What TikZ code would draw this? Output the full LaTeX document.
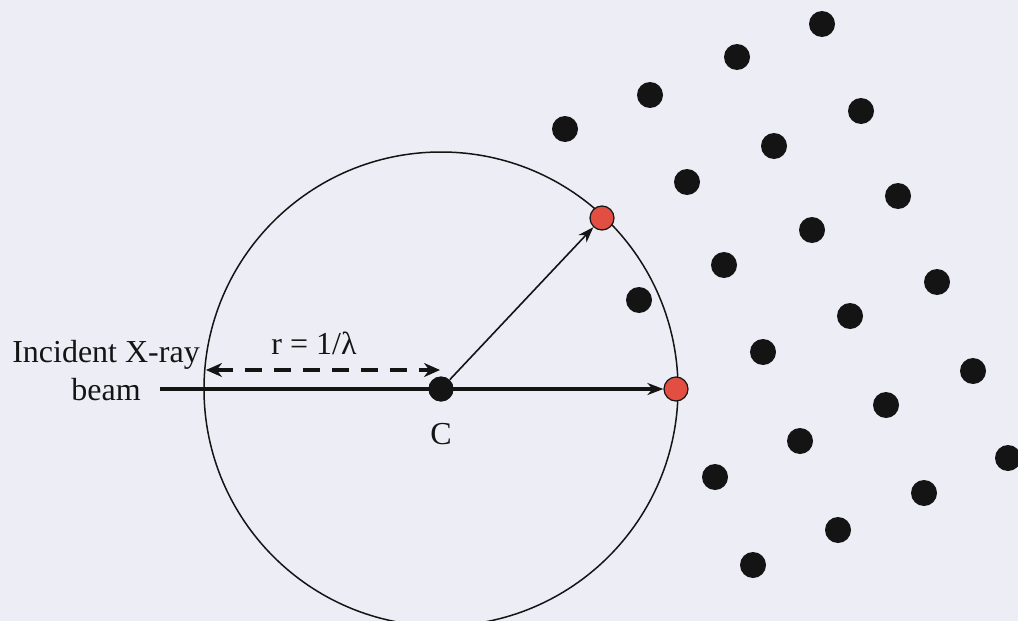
\documentclass[tikz,border=0pt]{standalone}
\usepackage{fontspec}
\setmainfont{Liberation Serif}
\usetikzlibrary{arrows.meta}
\definecolor{bgcol}{RGB}{237,237,246}
\definecolor{reddot}{RGB}{226,78,66}
\definecolor{ink}{RGB}{20,20,20}
\tikzset{
  latt/.style={circle,fill=ink,inner sep=0pt,minimum size=13pt},
  hit/.style={circle,fill=reddot,draw=ink,line width=0.6pt,inner sep=0pt,minimum size=12pt},
  ctr/.style={circle,fill=ink,inner sep=0pt,minimum size=12.5pt},
  lbl/.style={font=\fontsize{16}{19}\selectfont,text=ink,inner sep=0pt},
  beamline/.style={line width=2.2pt,draw=ink,-{Stealth[length=8pt,width=6pt]}},
  radius arrow/.style={line width=0.8pt,draw=ink,-{Stealth[length=8pt,width=5.5pt]}},
  dimline/.style={line width=2.2pt,draw=ink,dash pattern=on 8.5pt off 6pt,{Stealth[length=8pt,width=7pt]}-{Stealth[length=8pt,width=7pt]}},
}
\begin{document}
\begin{tikzpicture}[x=0.5pt,y=-0.5pt]
\fill[bgcol] (0,0) rectangle (1018,621);
\useasboundingbox (0,0) rectangle (1018,621);
\clip (0,0) rectangle (1018,621);
% Ewald sphere
\draw[ink,line width=0.75pt] (441,389) circle[radius=237];
% centre
\node[ctr] (C) at (441,389) {};
% reflections on sphere
\node[hit] (R1) at (602,218) {};
\node[hit] (R2) at (676,389) {};
% lattice points
\foreach \n/\x/\y in {1/822/24,2/737/57,3/650/95,4/565/129,5/861/111,6/774/146,7/687/182,8/898/196,9/812/230,10/724/265,11/937/282,12/850/316,13/639/300,14/763/352,15/973/371,16/886/405,17/800/441,18/1008/458,19/715/477,20/924/493,21/838/530,22/753/565}
  \node[latt] (L\n) at (\x,\y) {};
% beam
\coordinate (bs) at (160,389);
\draw[beamline] (bs) -- (R2);
\node[ctr] at (C) {};
\draw[radius arrow] (C) -- (R1);
% radius dimension
\coordinate (d1) at (206,370);
\coordinate (d2) at (440,370);
\draw[dimline] (d1) -- (d2);
% labels
\node[lbl] (rl) at (314,343) {r = 1/λ};
\node[lbl,align=center] (inc) at (106,371) {Incident X-ray\\beam};
\node[lbl] (cl) at (441,434) {C};
\end{tikzpicture}
\end{document}
